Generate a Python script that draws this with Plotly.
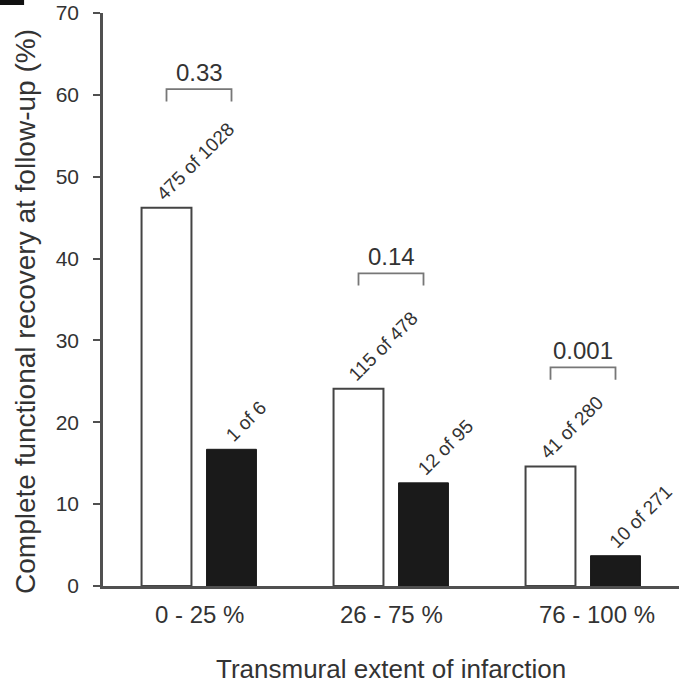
import plotly.graph_objects as go

categories = ["0 - 25 %", "26 - 75 %", "76 - 100 %"]
white_values = [46.2, 24.1, 14.6]
black_values = [16.7, 12.6, 3.7]
white_labels = ["475 of 1028", "115 of 478", "41 of 280"]
black_labels = ["1 of 6", "12 of 95", "10 of 271"]
p_values = ["0.33", "0.14", "0.001"]
bracket_levels = [60.7, 38.2, 26.7]
y_ticks = [0, 10, 20, 30, 40, 50, 60, 70]
x_title = "Transmural extent of infarction"
y_title = "Complete functional recovery at follow-up (%)"

FONT = "Liberation Sans, Arial, sans-serif"
TXT = "#333333"
BARGAP = 0.323
GROUPGAP = 0.232
slot = (1 - BARGAP) / 2
offs = slot / 2  # centre offset of each bar from category centre
cat_label_shift = [0, 0, 14]

fig = go.Figure()
fig.add_trace(go.Bar(x=list(range(len(categories))), y=white_values,
                     marker=dict(color="white", line=dict(color="#444444", width=2)),
                     showlegend=False))
fig.add_trace(go.Bar(x=list(range(len(categories))), y=black_values,
                     marker=dict(color="#1a1a1a", line=dict(color="#1a1a1a", width=1)),
                     showlegend=False))

annotations = []
shapes = []
for i in range(len(categories)):
    xw = i - offs
    xb = i + offs
    annotations.append(dict(x=xw, y=white_values[i], text=white_labels[i], textangle=-45,
                            showarrow=False, xanchor="left", yanchor="bottom",
                            xshift=-17, yshift=1,
                            font=dict(family=FONT, size=19, color=TXT)))
    annotations.append(dict(x=xb, y=black_values[i], text=black_labels[i], textangle=-45,
                            showarrow=False, xanchor="left", yanchor="bottom",
                            xshift=-13, yshift=1,
                            font=dict(family=FONT, size=19, color=TXT)))
    lvl = bracket_levels[i]
    shapes.append(dict(type="path", xref="x", yref="y",
                       path=f"M {xw} {lvl-1.5} L {xw} {lvl} L {xb} {lvl} L {xb} {lvl-1.5}",
                       line=dict(color="#777777", width=1.8)))
    annotations.append(dict(x=i, y=lvl, text=p_values[i], showarrow=False,
                            yanchor="bottom", yshift=1,
                            font=dict(family=FONT, size=24, color=TXT)))
    # category label
    annotations.append(dict(x=i, xref="x", y=-0.0506, yref="paper", text=categories[i],
                            showarrow=False, xanchor="center", yanchor="middle",
                            xshift=cat_label_shift[i],
                            font=dict(family=FONT, size=24, color=TXT)))

annotations.append(dict(x=0.5, xref="paper", y=-0.1448, yref="paper", text=x_title,
                        showarrow=False, xanchor="center", yanchor="middle",
                        font=dict(family=FONT, size=26, color=TXT)))
annotations.append(dict(x=-0.1337, xref="paper", y=0.48, yref="paper", text=y_title,
                        textangle=-90, showarrow=False, xanchor="center", yanchor="middle",
                        font=dict(family=FONT, size=28, color=TXT)))

# panel letter remnant in the top-left corner
shapes.append(dict(type="rect", xref="paper", yref="paper",
                   x0=-0.185, x1=-0.137, y0=1.014, y1=1.03,
                   fillcolor="#111111", line=dict(width=0)))

fig.update_layout(
    width=679, height=690,
    margin=dict(l=103, r=0, t=13, b=104),
    paper_bgcolor="white", plot_bgcolor="white",
    barmode="group", bargap=BARGAP, bargroupgap=GROUPGAP,
    annotations=annotations, shapes=shapes,
    font=dict(family=FONT, color=TXT),
    xaxis=dict(range=[-0.5, 2.5], showticklabels=False,
               showline=True, linecolor="#505050", linewidth=2.5,
               ticks="", showgrid=False, zeroline=False),
    yaxis=dict(range=[0, 70], tickmode="array", tickvals=y_ticks,
               showline=True, linecolor="#505050", linewidth=2.5,
               ticks="outside", ticklen=7, tickwidth=2, tickcolor="#505050",
               showgrid=False, zeroline=False,
               tickfont=dict(size=21, color=TXT), ticklabelstandoff=10),
)

fig.write_html("out.html")
